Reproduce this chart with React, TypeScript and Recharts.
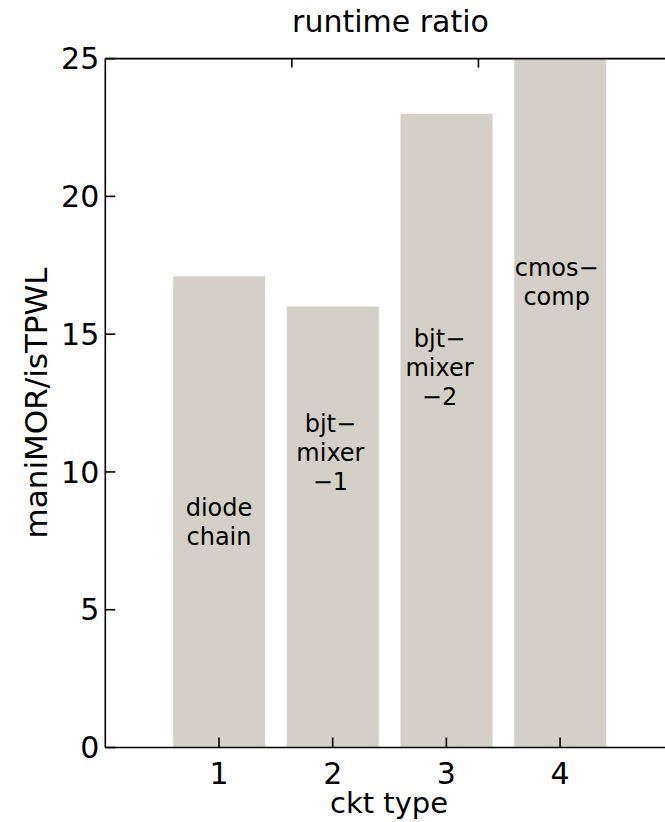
import { Bar, ComposedChart, ReferenceDot, XAxis, YAxis } from "recharts";

const cktType = [1, 2, 3, 4];
const runtimeRatio = [17.1, 16.0, 23.0, 25];
const xTicks = [1, 2, 3, 4];
const yTicks = [0, 5, 10, 15, 20, 25];

// in-bar text, placed in data units (x, y) like matlab text()
const noteLines = [
  ["diode", "chain"],
  ["bjt\u2212", "mixer", "\u22121"],
  ["bjt\u2212", "mixer", "\u22122"],
  ["cmos\u2212", "comp"],
];
const noteX = [1.0, 1.98, 2.94, 3.97];
const noteY = [8.2, 10.7, 13.8, 16.9];

// the original figure is cut off a little before x = 5
const xDomain = [0, 4.923];

const FONT = "DejaVu Sans";
const BAR = "#d4d0c8";
const INK = "#000";

const data = cktType.map((x, i) => ({ x, ratio: runtimeRatio[i] }));

function Note({ cx, cy, lines }: { cx?: number; cy?: number; lines: string[] }) {
  if (cx == null || cy == null) return null;
  const lh = 29;
  const y0 = cy - ((lines.length - 1) * lh) / 2;
  return (
    <text textAnchor="middle" fontFamily={FONT} fontSize={24} fill={INK}>
      {lines.map((l, i) => (
        <tspan key={i} x={cx} y={y0 + i * lh} dy="0.36em">
          {l}
        </tspan>
      ))}
    </text>
  );
}

const tickStyle = { fill: INK, fontSize: 30, fontFamily: FONT };
const axisStroke = { stroke: INK, strokeWidth: 1.6 };
const blank = () => "";

export default function App() {
  return (
    <>
      <style>{"body{margin:0}"}</style>
      <ComposedChart
        width={665}
        height={822}
        data={data}
        margin={{ top: 57.6, right: 0, bottom: 0, left: 0 }}
      >
        <XAxis
          dataKey="x"
          type="number"
          domain={xDomain}
          allowDataOverflow
          ticks={xTicks}
          height={74.5}
          tickSize={-10}
          tickMargin={25}
          tick={tickStyle}
          axisLine={axisStroke}
          tickLine={axisStroke}
        />
        <XAxis
          xAxisId="top"
          orientation="top"
          type="number"
          domain={xDomain}
          allowDataOverflow
          ticks={xTicks}
          height={1}
          tickSize={-9}
          tickFormatter={blank}
          axisLine={axisStroke}
          tickLine={axisStroke}
        />
        <YAxis
          type="number"
          domain={[0, 25]}
          ticks={yTicks}
          allowDataOverflow
          width={105.3}
          tickSize={-10}
          tickMargin={16}
          tick={tickStyle}
          axisLine={axisStroke}
          tickLine={axisStroke}
        />
        <Bar dataKey="ratio" fill={BAR} barSize={92} isAnimationActive={false} />
        {noteLines.map((lines, i) => (
          <ReferenceDot
            key={i}
            x={noteX[i]}
            y={noteY[i]}
            r={0}
            shape={(p: any) => <Note cx={p.cx} cy={p.cy} lines={lines} />}
          />
        ))}
        <text x={390.5} y={32} textAnchor="middle" fontFamily={FONT} fontSize={30} fill={INK}>
          runtime ratio
        </text>
        <text x={389} y={813} textAnchor="middle" fontFamily={FONT} fontSize={29} fill={INK}>
          ckt type
        </text>
        <text
          x={46.7}
          y={403}
          transform="rotate(-90 46.7 403)"
          textAnchor="middle"
          fontFamily={FONT}
          fontSize={31}
          fill={INK}
        >
          maniMOR/isTPWL
        </text>
      </ComposedChart>
    </>
  );
}
